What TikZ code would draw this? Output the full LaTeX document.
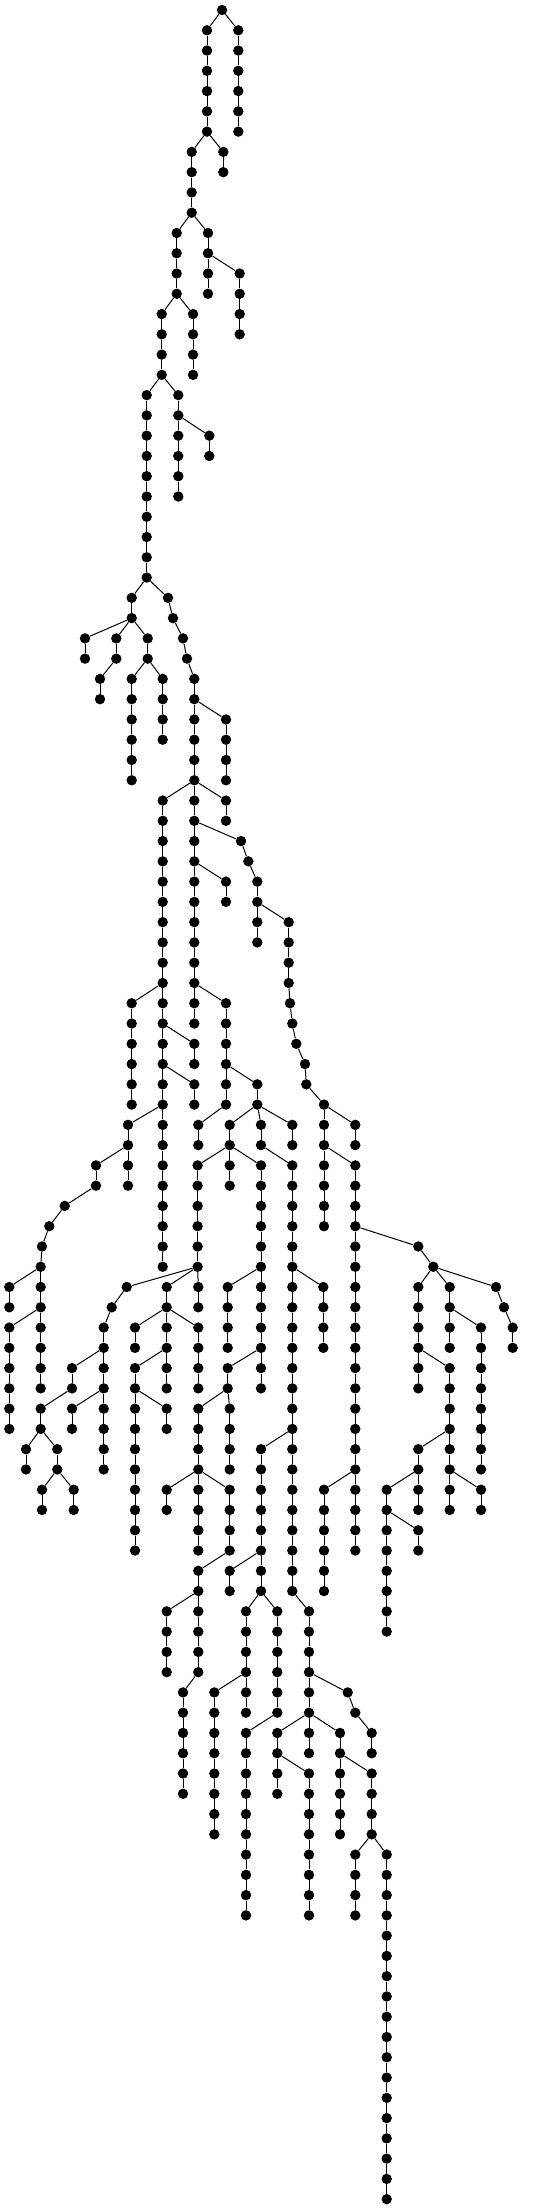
\documentclass[tikz,border=0pt]{standalone}
\tikzset{blob/.style={circle,fill=black,draw=none,inner sep=0pt,minimum size=10.4pt},
  conn/.style={line width=1pt,black}}
\newcommand\mkchain[4]{%
  \foreach \l in {#3,...,#4}{\node[blob] (#1-\l) at (#2,{10+20.27*\l}) {};}%
  \foreach \l in {#3,...,#4}{\ifnum\l>#3\relax\pgfmathtruncatemacro\pl{\l-1}\draw[conn] (#1-\pl) -- (#1-\l);\fi}}
\newcommand\dn[3]{\node[blob] (#1) at (#2,{10+20.27*#3}) {};}
\newcommand\lnk[2]{\draw[conn] (#1) -- (#2);}
\begin{document}
\begin{tikzpicture}[x=1pt,y=-1pt]
\useasboundingbox (0,0) rectangle (554,2209);
\mkchain{c1}{222}{0}{0}
\mkchain{c2}{207}{1}{6}
\mkchain{c3}{238.3}{1}{6}
\lnk{c1-0}{c2-1}\lnk{c1-0}{c3-1}
\mkchain{c4}{191.7}{7}{10}\lnk{c2-6}{c4-7}
\mkchain{c5}{223.3}{7}{8}\lnk{c2-6}{c5-7}
\mkchain{c6}{176.7}{11}{14}\lnk{c4-10}{c6-11}
\mkchain{c7}{208}{11}{14}\lnk{c4-10}{c7-11}
\mkchain{c8}{239.7}{13}{16}\lnk{c7-12}{c8-13}
\mkchain{c9}{161.7}{15}{18}\lnk{c6-14}{c9-15}
\mkchain{c10}{193}{15}{18}\lnk{c6-14}{c10-15}
\mkchain{c11}{146.7}{19}{28}\lnk{c9-18}{c11-19}
\mkchain{c12}{178.3}{19}{24}\lnk{c9-18}{c12-19}
\mkchain{c13}{209.3}{21}{22}\lnk{c12-20}{c13-21}
\mkchain{c14}{131.7}{29}{30}\lnk{c11-28}{c14-29}
\dn{e29}{168}{29}\dn{e30}{173}{30}\dn{e31}{183}{31}\dn{e32}{187}{32}
\lnk{c11-28}{e29}\lnk{e29}{e30}\lnk{e30}{e31}\lnk{e31}{e32}
\mkchain{c15}{194.3}{33}{38}\lnk{e32}{c15-33}
\mkchain{c16}{85}{31}{32}\lnk{c14-30}{c16-31}
\mkchain{c17}{116.3}{31}{32}\lnk{c14-30}{c17-31}
\mkchain{c18}{100}{33}{34}\lnk{c17-32}{c18-33}
\mkchain{c19}{147.7}{31}{32}\lnk{c14-30}{c19-31}
\mkchain{c20}{131.7}{33}{38}\lnk{c19-32}{c20-33}
\mkchain{c21}{162.7}{33}{36}\lnk{c19-32}{c21-33}
\mkchain{c22}{226}{35}{38}\lnk{c15-34}{c22-35}
\mkchain{c23}{162.7}{39}{48}\lnk{c15-38}{c23-39}
\mkchain{c24}{226}{39}{40}\lnk{c15-38}{c24-39}
\mkchain{c25}{194.3}{39}{50}\lnk{c15-38}{c25-39}
\dn{f41}{241}{41}\dn{f42}{248.3}{42}
\lnk{c25-40}{f41}\lnk{f41}{f42}
\mkchain{c26}{257.3}{43}{46}\lnk{f42}{c26-43}
\mkchain{c27}{226}{43}{44}\lnk{c25-42}{c27-43}
\mkchain{c28}{288.7}{45}{48}\lnk{c26-44}{c28-45}
\dn{g49}{290}{49}\dn{g50}{292.3}{50}\dn{g51}{296.3}{51}\dn{g52}{305}{52}\dn{g53}{306.3}{53}
\lnk{c28-48}{g49}\lnk{g49}{g50}\lnk{g50}{g51}\lnk{g51}{g52}\lnk{g52}{g53}
\mkchain{c29}{131.7}{49}{54}\lnk{c23-48}{c29-49}
\mkchain{c30}{162.7}{49}{62}\lnk{c23-48}{c30-49}
\mkchain{c31}{194.3}{51}{52}\lnk{c30-50}{c31-51}
\mkchain{c32}{194.3}{53}{54}\lnk{c30-52}{c32-53}
\mkchain{c33}{128}{55}{58}\lnk{c30-54}{c33-55}
\mkchain{c34}{96}{57}{58}\lnk{c33-56}{c34-57}
\dn{h59}{64.7}{59}\dn{h60}{49.3}{60}\dn{h61}{42}{61}
\lnk{c34-58}{h59}\lnk{h59}{h60}\lnk{h60}{h61}
\mkchain{c35}{40.7}{62}{68}\lnk{h61}{c35-62}
\mkchain{c36}{9.3}{63}{64}\lnk{c35-62}{c36-63}
\mkchain{c37}{9.3}{65}{70}\lnk{c35-64}{c37-65}
\mkchain{c38}{226}{49}{54}\lnk{c25-48}{c38-49}
\mkchain{c39}{198.3}{55}{56}\lnk{c38-54}{c39-55}
\mkchain{c40}{257.3}{53}{54}\lnk{c38-52}{c40-53}
\mkchain{c41}{229.7}{55}{58}\lnk{c40-54}{c41-55}
\mkchain{c42}{261}{55}{56}\lnk{c40-54}{c42-55}
\mkchain{c43}{292.3}{55}{56}\lnk{c40-54}{c43-55}
\mkchain{c44}{197.6}{57}{62}\lnk{c41-56}{c44-57}
\mkchain{c46}{261}{57}{68}\lnk{c41-56}{c46-57}
\mkchain{c47}{292.3}{57}{78}\lnk{c42-56}{c47-57}
\mkchain{c48}{198.3}{63}{64}\lnk{c44-62}{c48-63}
\mkchain{c49}{166.7}{63}{68}\lnk{c44-62}{c49-63}
\mkchain{c50}{135}{65}{66}\lnk{c49-64}{c50-65}
\mkchain{c51}{198.3}{65}{68}\lnk{c49-64}{c51-65}
\mkchain{c52}{135}{67}{76}\lnk{c49-66}{c52-67}
\mkchain{c53}{166.7}{69}{70}\lnk{c52-68}{c53-69}
\dn{i63}{126.7}{63}\dn{i64}{111.7}{64}
\lnk{c44-62}{i63}\lnk{i63}{i64}
\mkchain{c54}{103.7}{65}{72}\lnk{i64}{c54-65}
\mkchain{c55}{72}{67}{68}\lnk{c54-66}{c55-67}
\mkchain{c56}{40.7}{69}{70}\lnk{c55-68}{c56-69}
\mkchain{c57}{26}{71}{72}\lnk{c56-70}{c57-71}
\mkchain{c58}{57.3}{71}{72}\lnk{c56-70}{c58-71}
\mkchain{c59}{42}{73}{74}\lnk{c58-72}{c59-73}
\mkchain{c60}{73.7}{73}{74}\lnk{c58-72}{c60-73}
\mkchain{c61}{72}{69}{70}\lnk{c54-68}{c61-69}
\mkchain{c62}{227.7}{63}{66}\lnk{c46-62}{c62-63}
\mkchain{c63}{227.7}{67}{68}\lnk{c46-66}{c63-67}
\mkchain{c64}{198.3}{69}{76}\lnk{c63-68}{c64-69}
\mkchain{c65}{229.7}{69}{72}\lnk{c63-68}{c65-69}
\mkchain{c66}{166.7}{73}{74}\lnk{c64-72}{c66-73}
\mkchain{c67}{229.7}{73}{76}\lnk{c64-72}{c67-73}
\mkchain{c68}{198.3}{77}{82}\lnk{c67-76}{c68-77}
\mkchain{c69}{166.7}{79}{82}\lnk{c68-78}{c69-79}
\mkchain{c70}{183}{83}{88}\lnk{c68-82}{c70-83}
\mkchain{c71}{323.3}{63}{66}\lnk{c47-62}{c71-63}
\mkchain{c72}{261}{71}{78}\lnk{c47-70}{c72-71}
\mkchain{c73}{229.7}{77}{78}\lnk{c72-76}{c73-77}
\mkchain{c74}{246}{79}{84}\lnk{c72-78}{c74-79}
\mkchain{c75}{214.3}{83}{90}\lnk{c74-82}{c75-83}
\mkchain{c76}{277.3}{79}{84}\lnk{c72-78}{c76-79}
\mkchain{c77}{246}{85}{94}\lnk{c76-84}{c77-85}
\mkchain{c78}{309}{79}{86}\lnk{c47-78}{c78-79}
\dn{j83}{347.7}{83}\dn{j84}{355.3}{84}
\lnk{c78-82}{j83}\lnk{j83}{j84}
\mkchain{c79}{371.7}{85}{86}\lnk{j84}{c79-85}
\mkchain{c80}{277.3}{85}{88}\lnk{c78-84}{c80-85}
\mkchain{c81}{309}{87}{94}\lnk{c80-86}{c81-87}
\mkchain{c82}{340}{85}{90}\lnk{c78-84}{c82-85}
\mkchain{c83}{371.7}{87}{90}\lnk{c82-86}{c83-87}
\mkchain{c84}{355.3}{91}{94}\lnk{c83-90}{c84-91}
\mkchain{c85}{386.7}{91}{108}\lnk{c83-90}{c85-91}
\mkchain{c86}{324}{54}{60}\lnk{g53}{c86-54}
\mkchain{c87}{355.3}{55}{56}\lnk{c86-54}{c87-55}
\mkchain{c88}{355.3}{57}{76}\lnk{c86-56}{c88-57}
\dn{k61}{418.3}{61}\dn{k62}{433.3}{62}
\lnk{c88-60}{k61}\lnk{k61}{k62}
\mkchain{c90}{418.3}{63}{68}\lnk{k62}{c90-63}
\mkchain{c91}{449.7}{67}{74}\lnk{c90-66}{c91-67}
\mkchain{c92}{481}{73}{74}\lnk{c91-72}{c92-73}
\mkchain{c93}{418.3}{71}{74}\lnk{c91-70}{c93-71}
\mkchain{c94}{386.7}{73}{80}\lnk{c93-72}{c94-73}
\mkchain{c95}{418.3}{75}{76}\lnk{c94-74}{c95-75}
\mkchain{c96}{449.7}{63}{66}\lnk{k62}{c96-63}
\mkchain{c97}{481}{65}{72}\lnk{c96-64}{c97-65}
\dn{m63}{496}{63}\dn{m64}{504}{64}
\lnk{k62}{m63}\lnk{m63}{m64}
\mkchain{c98}{512.7}{65}{66}\lnk{m64}{c98-65}
\mkchain{c99}{324}{73}{78}\lnk{c88-72}{c99-73}
\end{tikzpicture}
\end{document}
